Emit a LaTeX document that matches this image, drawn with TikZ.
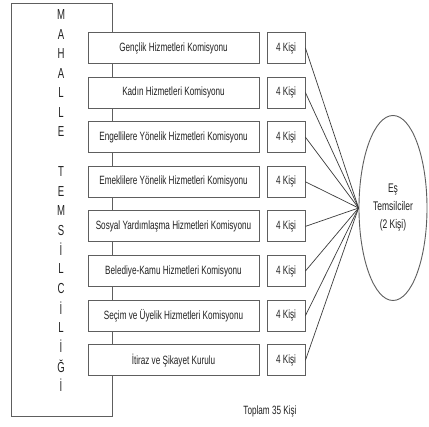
\documentclass[tikz,border=0pt]{standalone}
\usepackage{fontspec}
\setmainfont{Liberation Sans}
\newfontfamily\nar{Liberation Sans}[FakeStretch=0.68]
\newfontfamily\narl{Liberation Sans}[FakeStretch=0.66]
\usetikzlibrary{shapes.geometric}
\definecolor{boxgray}{HTML}{5E5E5E}
\definecolor{linegray}{HTML}{3C3C3C}
\definecolor{txt}{HTML}{222222}
\begin{document}
\begin{tikzpicture}[x=1pt,y=-1pt,
  box/.style={draw=boxgray, line width=0.9pt, fill=white, minimum width=171pt, minimum height=31pt, inner sep=0pt, font=\nar\fontsize{12}{14}\selectfont, text=txt},
  kbox/.style={box, minimum width=38pt},
  conn/.style={draw=linegray, line width=0.7pt},
  letter/.style={font=\narl\fontsize{14.5}{14.5}\selectfont, text=txt, inner sep=0pt},
  lbl/.style={font=\nar\fontsize{12}{14}\selectfont, text=txt, inner sep=0pt}]
\useasboundingbox (0,0) rectangle (429,427);
\fill[white] (0,0) rectangle (429,427);
% frame
\node[draw=boxgray, line width=0.9pt, minimum width=101pt, minimum height=413pt, inner sep=0pt] (frame) at (61.5,209.5) {};
% letters
\foreach \l [count=\i from 0] in {M,A,H,A,L,L,E}
  \node[letter] (la\i) at (61,15+19.5*\i) {\l};
\foreach \l [count=\i from 0] in {T,E,M,S,İ,L,C,İ,L,İ,Ğ,İ}
  \node[letter] (lb\i) at (61,172+19.4*\i) {\l};
% ellipse
\node[ellipse, draw=boxgray, line width=0.9pt, minimum width=68pt, minimum height=185pt, inner sep=0pt, align=center, text=txt, font=\nar\fontsize{12.5}{18}\selectfont] (e) at (393,208) {Eş\\Temsilciler\\(2 Kişi)};
% committees
\foreach \t [count=\i from 0] in {Gençlik Hizmetleri Komisyonu,Kadın Hizmetleri Komisyonu,Engellilere Yönelik Hizmetleri Komisyonu,Emeklilere Yönelik Hizmetleri Komisyonu,Sosyal Yardımlaşma Hizmetleri Komisyonu,Belediye-Kamu Hizmetleri Komisyonu,Seçim ve Üyelik Hizmetleri Komisyonu,İtiraz ve Şikayet Kurulu}{
  \node[box] (c\i) at (173.5,48+44.6*\i) {\t};
  \node[kbox] (k\i) at (286,48+44.6*\i) {4 Kişi};
  \draw[conn] (k\i.east) -- (e.west);
}
\node[lbl] (total) at (270,411) {Toplam 35 Kişi};
\end{tikzpicture}
\end{document}
